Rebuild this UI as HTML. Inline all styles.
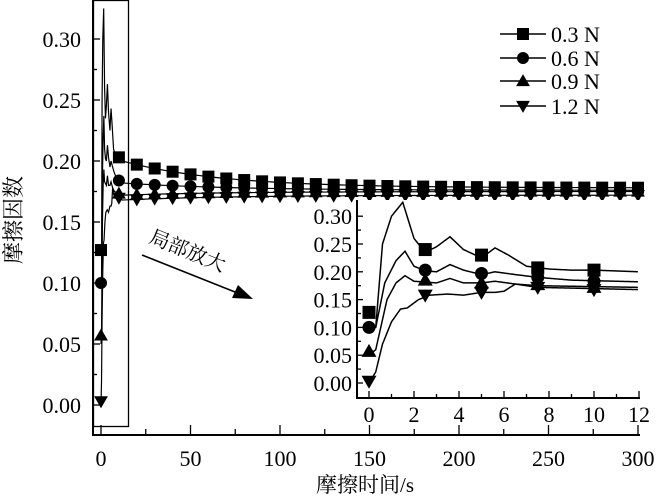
<!DOCTYPE html>
<html><head><meta charset="utf-8"><style>
html,body{margin:0;padding:0;background:#fff;}
svg{display:block;}
text{font-family:"Liberation Serif","Noto Serif CJK SC",serif;fill:#000;}
</style></head><body>
<svg id="s" width="658" height="502" viewBox="0 0 658 502" xmlns="http://www.w3.org/2000/svg">
<text x="16" y="220" font-size="22" font-family="Liberation Sans,'Noto Sans CJK SC',sans-serif" transform="rotate(-90 16 220)" text-anchor="middle" dominant-baseline="middle">摩擦因数</text>
<text x="365" y="492" font-size="21" text-anchor="middle" font-family="Liberation Sans,'Noto Sans CJK SC',sans-serif">摩擦时间/s</text>
<text x="148" y="242" font-size="20" transform="rotate(22 148 242)" font-family="Liberation Sans,'Noto Sans CJK SC',sans-serif">局部放大</text>
<line x1="142" y1="255" x2="240" y2="294" stroke="#000" stroke-width="1.5"/>
<polygon points="253,299 232,298 238,285" fill="#000"/>
<rect x="93.5" y="0.5" width="35" height="426" fill="none" stroke="#000" stroke-width="1.3"/>
</svg>
<script>
const s=document.getElementById('s');const NS='http://www.w3.org/2000/svg';
function el(t,a,txt){const e=document.createElementNS(NS,t);for(const k in a)e.setAttribute(k,a[k]);if(txt!==undefined)e.textContent=txt;s.appendChild(e);return e;}
function interp(p,t){for(let i=1;i<p.length;i++){if(t<=p[i][0]){const a=p[i-1],b=p[i];return a[1]+(b[1]-a[1])*(t-a[0])/(b[0]-a[0]);}}return p[p.length-1][1];}
const D=[
 {m:'sq',p:[[0,0.10],[0.3,0.10],[0.6,0.25],[1,0.30],[1.5,0.325],[2,0.26],[2.5,0.235],[3,0.245],[3.6,0.263],[4.2,0.24],[5,0.225],[5.6,0.243],[6.2,0.23],[7,0.21],[8,0.205],[9,0.203],[10,0.203],[12,0.2]],mk:[0.127,0.24,0.23,0.207,0.203],f:t=>0.178+0.022*Math.exp(-(t-12)/55)},
 {m:'ci',p:[[0,0.095],[0.3,0.1],[0.7,0.18],[1.2,0.22],[1.6,0.237],[2,0.21],[2.5,0.202],[3,0.2],[3.6,0.213],[4.2,0.203],[5,0.195],[5.6,0.2],[6.5,0.195],[7.5,0.19],[9,0.185],[12,0.182]],mk:[0.10,0.203,0.197,0.19,0.183],f:t=>0.176+0.006*Math.exp(-(t-12)/60)},
 {m:'tu',p:[[0,0.05],[0.3,0.06],[0.8,0.15],[1.2,0.18],[1.6,0.193],[2,0.183],[3,0.18],[3.6,0.188],[4.2,0.18],[5,0.18],[5.6,0.183],[6.5,0.178],[7.5,0.175],[12,0.172]],mk:[0.057,0.185,0.18,0.177,0.172],f:t=>0.175-0.003*Math.exp(-(t-12)/60)},
 {m:'td',p:[[0,0.0],[0.3,0.02],[0.6,0.07],[1,0.11],[1.4,0.133],[1.7,0.135],[2.2,0.15],[2.7,0.158],[3.5,0.16],[4.2,0.158],[5,0.163],[5.6,0.163],[6,0.165],[6.5,0.178],[7.5,0.172],[12,0.168]],mk:[0.003,0.158,0.163,0.172,0.168],f:t=>0.172-0.004*Math.exp(-(t-12)/60)}
];
function marker(m,x,y,r){
 if(m==='sq')el('rect',{x:x-r,y:y-r,width:2*r,height:2*r,fill:'#000'});
 else if(m==='ci')el('circle',{cx:x,cy:y,r:r,fill:'#000'});
 else if(m==='tu')el('polygon',{points:`${x-r*1.15},${y+r*0.85} ${x+r*1.15},${y+r*0.85} ${x},${y-r*1.15}`,fill:'#000'});
 else el('polygon',{points:`${x-r*1.15},${y-r*0.85} ${x+r*1.15},${y-r*0.85} ${x},${y+r*1.15}`,fill:'#000'});
}
const mx=t=>101+t*1.79, my=v=>405-v*1220;
el('line',{x1:93,y1:0,x2:93,y2:436,stroke:'#000','stroke-width':2});
el('line',{x1:92,y1:435,x2:640,y2:435,stroke:'#000','stroke-width':2});
for(let i=0;i<=6;i++){const v=i*0.05,y=my(v);el('line',{x1:93,y1:y,x2:100,y2:y,stroke:'#000','stroke-width':1.3});
 el('text',{x:81,y:y+8,'font-size':22,'text-anchor':'end'},v.toFixed(2));
 if(i<6)el('line',{x1:93,y1:my(v+0.025),x2:97,y2:my(v+0.025),stroke:'#000','stroke-width':1.3});}
for(let t=0;t<=300;t+=25){const x=mx(t);el('line',{x1:x,y1:435,x2:x,y2:t%50?429:425,stroke:'#000','stroke-width':1.3});
 if(t%50==0)el('text',{x:x,y:466,'font-size':22,'text-anchor':'middle'},t);}
D.forEach(d=>{let pts=[];for(let t=0;t<=12;t+=0.1)pts.push([mx(t),my(interp(d.p,t))]);for(let t=13;t<=300;t+=2)pts.push([mx(t),my(d.f(t))]);
 el('polyline',{points:pts.map(p=>p.join(',')).join(' '),fill:'none',stroke:'#000','stroke-width':1.2});
 marker(d.m,mx(0),my(d.mk[0]),6);
 for(let t=10;t<=300;t+=10)marker(d.m,mx(t),my(t<=12?interp(d.p,t):d.f(t)),6);});
const ix=t=>369+t*22.5, iy=v=>383-v*556;
el('rect',{x:357,y:200,width:290,height:199,fill:'#fff'});
el('line',{x1:357,y1:200,x2:357,y2:399,stroke:'#000','stroke-width':2});
el('line',{x1:356,y1:398,x2:640,y2:398,stroke:'#000','stroke-width':2});
for(let i=0;i<=6;i++){const v=i*0.05,y=iy(v);el('line',{x1:357,y1:y,x2:363,y2:y,stroke:'#000','stroke-width':1.3});
 el('text',{x:352,y:y+8,'font-size':22,'text-anchor':'end'},v.toFixed(2));
 if(i<6)el('line',{x1:357,y1:iy(v+0.025),x2:361,y2:iy(v+0.025),stroke:'#000','stroke-width':1.3});}
for(let t=0;t<=12;t+=1){const x=ix(t);el('line',{x1:x,y1:398,x2:x,y2:t%2?394:391,stroke:'#000','stroke-width':1.3});
 if(t%2==0)el('text',{x:x,y:422,'font-size':22,'text-anchor':'middle'},t);}
D.forEach(d=>{let pts=[];for(let t=0;t<=12;t+=0.05)pts.push([ix(t),iy(interp(d.p,t))]);
 el('polyline',{points:pts.map(p=>p.join(',')).join(' '),fill:'none',stroke:'#000','stroke-width':1.5});
 d.mk.forEach((v,i)=>marker(d.m,ix(i*2.5),iy(v),6.5));});
const ly=[34,58,81,106],lb=['0.3 N','0.6 N','0.9 N','1.2 N'];
D.forEach((d,i)=>{el('line',{x1:500,y1:ly[i],x2:546,y2:ly[i],stroke:'#000','stroke-width':1.5});marker(d.m,523,ly[i],6);
 el('text',{x:551,y:ly[i]+8,'font-size':22},lb[i]);});
</script>
</body></html>
